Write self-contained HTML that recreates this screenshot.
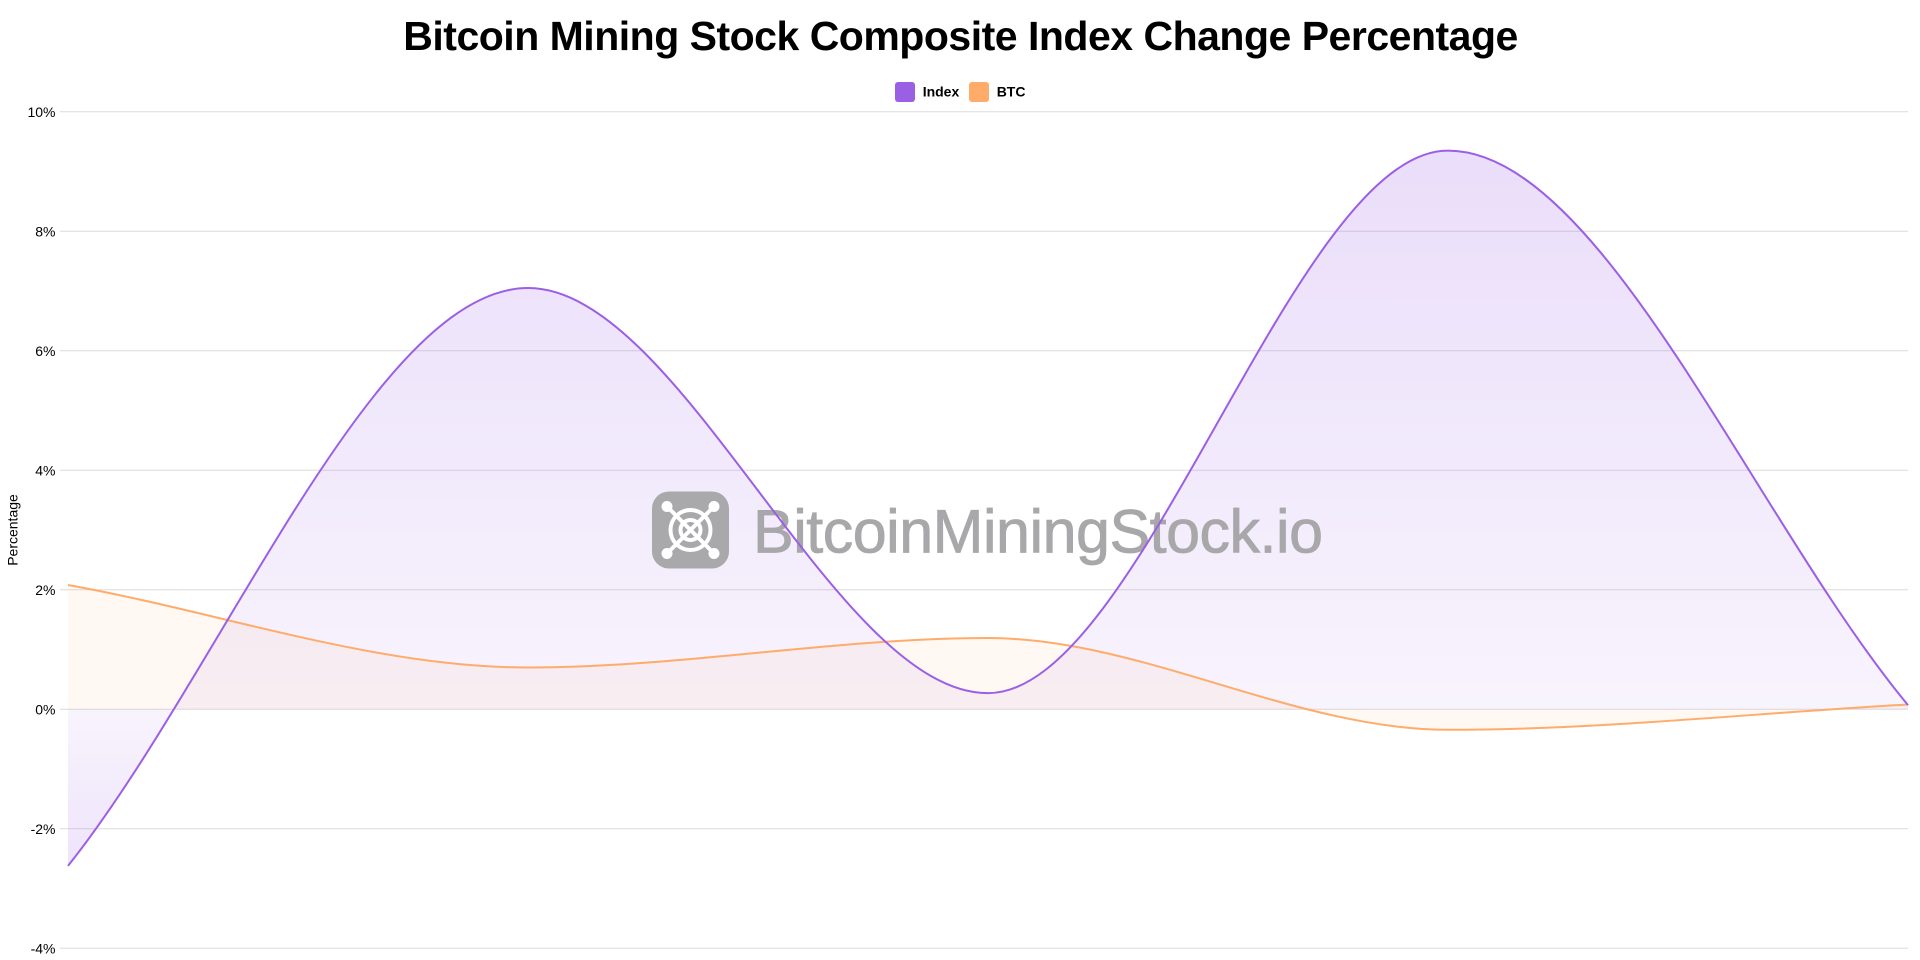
<!DOCTYPE html>
<html>
<head>
<meta charset="utf-8">
<style>
  html, body { margin: 0; padding: 0; background: #ffffff; }
  body { width: 1920px; height: 960px; overflow: hidden; }
  svg { display: block; }
  text { font-family: "Liberation Sans", Arial, Helvetica, sans-serif; }
</style>
</head>
<body>
<svg width="1920" height="960" viewBox="0 0 1920 960" xmlns="http://www.w3.org/2000/svg">
  <defs>
    <linearGradient id="idxAbove" gradientUnits="userSpaceOnUse" x1="0" y1="112" x2="0" y2="709.3">
      <stop offset="0" stop-color="rgb(155,95,230)" stop-opacity="0.22"/>
      <stop offset="1" stop-color="rgb(155,95,230)" stop-opacity="0.07"/>
    </linearGradient>
    <linearGradient id="idxBelow" gradientUnits="userSpaceOnUse" x1="0" y1="709.3" x2="0" y2="948">
      <stop offset="0" stop-color="rgb(155,95,230)" stop-opacity="0.07"/>
      <stop offset="1" stop-color="rgb(155,95,230)" stop-opacity="0.22"/>
    </linearGradient>
    <clipPath id="clipAbove"><rect x="0" y="0" width="1920" height="709.3"/></clipPath>
    <clipPath id="clipBelow"><rect x="0" y="709.3" width="1920" height="260"/></clipPath>
  </defs>

  <!-- Title -->
  <text x="960.8" y="50" text-anchor="middle" font-size="41" font-weight="bold" fill="#000" textLength="1115">Bitcoin Mining Stock Composite Index Change Percentage</text>

  <!-- Legend -->
  <rect x="895" y="82" width="20" height="20" rx="3" ry="3" fill="#9b5fe6"/>
  <text x="922.7" y="96.5" font-size="14" font-weight="bold" fill="#000">Index</text>
  <rect x="969" y="82" width="20" height="20" rx="3" ry="3" fill="#ffab6a"/>
  <text x="996.7" y="96.5" font-size="14" font-weight="bold" fill="#000">BTC</text>

  <!-- Grid lines -->
  <g stroke="#dcdcdc" stroke-width="1">
    <line x1="60" y1="111.8" x2="1908" y2="111.8"/>
    <line x1="60" y1="231.3" x2="1908" y2="231.3"/>
    <line x1="60" y1="350.8" x2="1908" y2="350.8"/>
    <line x1="60" y1="470.3" x2="1908" y2="470.3"/>
    <line x1="60" y1="589.8" x2="1908" y2="589.8"/>
    <line x1="60" y1="709.3" x2="1908" y2="709.3"/>
    <line x1="60" y1="828.8" x2="1908" y2="828.8"/>
    <line x1="60" y1="948.3" x2="1908" y2="948.3"/>
  </g>

  <!-- Tick labels -->
  <g font-size="14" fill="#000" text-anchor="end">
    <text x="55.5" y="116.8">10%</text>
    <text x="55.5" y="236.3">8%</text>
    <text x="55.5" y="355.8">6%</text>
    <text x="55.5" y="475.3">4%</text>
    <text x="55.5" y="594.8">2%</text>
    <text x="55.5" y="714.3">0%</text>
    <text x="55.5" y="833.8">-2%</text>
    <text x="55.5" y="953.3">-4%</text>
  </g>

  <!-- Y axis title -->
  <text transform="translate(17.5,530) rotate(-90)" text-anchor="middle" font-size="14" fill="#000">Percentage</text>

  <!-- Index fill -->
  <path clip-path="url(#clipAbove)" fill="url(#idxAbove)" d="M68,865.85 C221.33,673.25 374.67,288.06 528,288.06 C681.33,288.06 834.67,693.17 988,693.17 C1141.33,693.17 1294.67,150.64 1448,150.64 C1601.33,150.64 1754.67,520.29 1908,705.12 L1908,709.3 L68,709.3 Z"/>
  <path clip-path="url(#clipBelow)" fill="url(#idxBelow)" d="M68,865.85 C221.33,673.25 374.67,288.06 528,288.06 C681.33,288.06 834.67,693.17 988,693.17 C1141.33,693.17 1294.67,150.64 1448,150.64 C1601.33,150.64 1754.67,520.29 1908,705.12 L1908,709.3 L68,709.3 Z"/>

  <!-- BTC fill -->
  <path fill="rgba(255,171,106,0.08)" d="M68,585 C221.33,612.5 374.67,667.5 528,667.5 C681.33,667.5 834.67,638 988,638 C1141.33,638 1294.67,729.8 1448,729.8 C1601.33,729.8 1754.67,712.93 1908,704.5 L1908,709.3 L68,709.3 Z"/>

  <!-- Watermark -->
  <g>
    <rect x="652" y="491.5" width="77" height="77" rx="17" ry="17" fill="#a9a8ab"/>
    <g stroke="#ffffff" fill="none" stroke-width="4" stroke-linecap="round">
      <circle cx="690.5" cy="530" r="20"/>
      <circle cx="690.5" cy="530" r="10"/>
      <line x1="667" y1="506.5" x2="714" y2="553.5"/>
      <line x1="714" y1="506.5" x2="667" y2="553.5"/>
    </g>
    <g fill="#ffffff">
      <circle cx="667" cy="506.5" r="5.5"/>
      <circle cx="714" cy="506.5" r="5.5"/>
      <circle cx="667" cy="553.5" r="5.5"/>
      <circle cx="714" cy="553.5" r="5.5"/>
    </g>
    <text x="753" y="552.7" font-size="61" fill="#a8a7aa" stroke="#a8a7aa" stroke-width="0.8" textLength="570">BitcoinMiningStock.io</text>
  </g>

  <!-- BTC line -->
  <path fill="none" stroke="#ffab6a" stroke-width="2" d="M68,585 C221.33,612.5 374.67,667.5 528,667.5 C681.33,667.5 834.67,638 988,638 C1141.33,638 1294.67,729.8 1448,729.8 C1601.33,729.8 1754.67,712.93 1908,704.5"/>

  <!-- Index line -->
  <path fill="none" stroke="#9b5fe6" stroke-width="2" d="M68,865.85 C221.33,673.25 374.67,288.06 528,288.06 C681.33,288.06 834.67,693.17 988,693.17 C1141.33,693.17 1294.67,150.64 1448,150.64 C1601.33,150.64 1754.67,520.29 1908,705.12"/>
</svg>
</body>
</html>
